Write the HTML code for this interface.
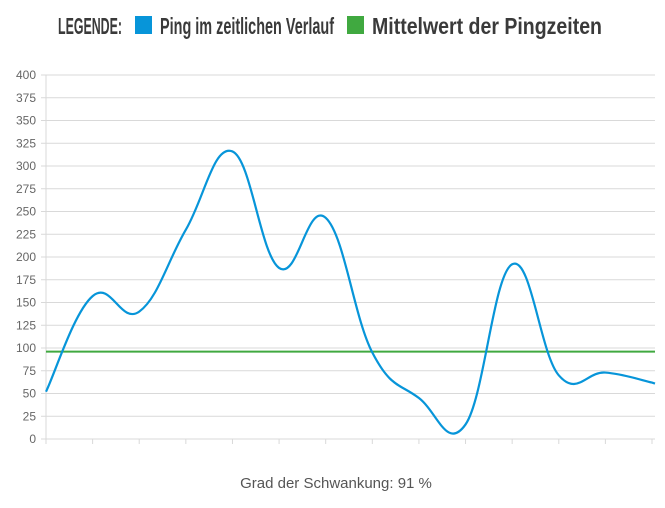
<!DOCTYPE html>
<html><head><meta charset="utf-8"><style>
body{margin:0;background:#fff;width:665px;height:503px;overflow:hidden;font-family:"Liberation Sans",sans-serif}
</style></head><body>
<svg id="chart" width="665" height="503" xmlns="http://www.w3.org/2000/svg">
<g font-family="Liberation Sans, sans-serif" font-weight="bold" fill="#3a3a3a" font-size="23">
<text x="58" y="34" textLength="64" lengthAdjust="spacingAndGlyphs">LEGENDE:</text>
<rect x="135" y="16" width="17" height="18" fill="#0795d9"/>
<text x="160" y="34" textLength="174" lengthAdjust="spacingAndGlyphs">Ping im zeitlichen Verlauf</text>
<rect x="347" y="16" width="17" height="18" fill="#40a940"/>
<text x="372" y="34" textLength="230" lengthAdjust="spacingAndGlyphs">Mittelwert der Pingzeiten</text>
</g>
<g id="grid"></g><g id="yt"></g><g id="xt"></g>
<line id="mean" stroke="#40a940" stroke-width="2"/>
<path id="line" fill="none" stroke="#0795d9" stroke-width="2.2"/>
<text x="336" y="488" text-anchor="middle" font-size="15" fill="#555">Grad der Schwankung: 91 %</text>
</svg>
<script>
const pings=[52,157,140,230,316,188,243,95,45,16,192,70,73,62];
const meanValue=96;
const yTicks=[0,25,50,75,100,125,150,175,200,225,250,275,300,325,350,375,400];
const X0=46,X1=652,Y0=439,Y1=75,XR=655;
const ns="http://www.w3.org/2000/svg";
const sx=i=>X0+i*(X1-X0)/(pings.length-1);
const sy=v=>Y0-(v/400)*(Y0-Y1);
const g=document.getElementById('grid'),yt=document.getElementById('yt'),xt=document.getElementById('xt');
function mk(t,a,p){const e=document.createElementNS(ns,t);for(const k in a)e.setAttribute(k,a[k]);p.appendChild(e);return e;}
yTicks.forEach(v=>{
 const l=mk('line',{x1:41,x2:XR,y1:sy(v),y2:sy(v),stroke:'#d9d9d9','stroke-width':1},g);
 
 
 const t=mk('text',{x:36,y:sy(v)+4,'text-anchor':'end','font-size':12,fill:'#666'},yt);
 t.textContent=v;
 
 
});
const ax=mk('line',{x1:X0,x2:X0,y1:Y1,y2:Y0+5,stroke:'#d9d9d9'},g);


pings.forEach((v,i)=>{
 const l=mk('line',{x1:sx(i),x2:sx(i),y1:Y0,y2:Y0+5,stroke:'#d9d9d9'},xt);
 
 
});
const m=document.getElementById('mean');
m.setAttribute('x1',X0);m.setAttribute('x2',XR);m.setAttribute('y1',sy(meanValue));m.setAttribute('y2',sy(meanValue));


const P=pings.map((v,i)=>[sx(i),sy(v)]);
let d='M'+P[0][0]+','+P[0][1];const T=0.4;
for(let i=0;i<P.length-1;i++){
 const p0=P[i-1]||P[i],p1=P[i],p2=P[i+1],p3=P[i+2]||P[i+1];
 const c1=[p1[0]+(p2[0]-p0[0])*T/2,p1[1]+(p2[1]-p0[1])*T/2];
 const c2=[p2[0]-(p3[0]-p1[0])*T/2,p2[1]-(p3[1]-p1[1])*T/2];
 d+=' C'+c1+' '+c2+' '+p2;
}
const last=P[P.length-1];d+=' L'+XR+','+(last[1]+1);
const ln=document.getElementById('line');
ln.setAttribute('d',d);


</script>
</body></html>
